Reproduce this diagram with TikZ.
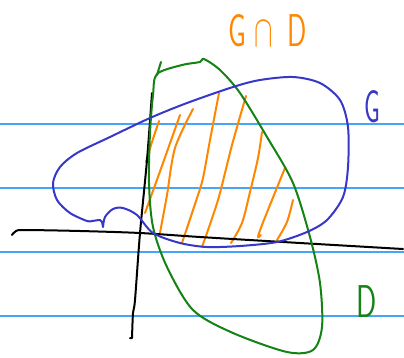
\documentclass[tikz,border=0pt]{standalone}
\usepackage{fontspec}
\begin{document}
\begin{tikzpicture}[x=1pt,y=-1pt,
  ruled/.style={draw=rulecol,line width=1.1pt},
  pen/.style={line width=2pt,line cap=round,line join=round},
  hatch/.style={pen,draw=hatchcol},
  lbl/.style={font=\sffamily\fontsize{46}{46}\selectfont,inner sep=0pt}]
\definecolor{rulecol}{RGB}{70,165,250}
\definecolor{bluecol}{RGB}{55,55,200}
\definecolor{greencol}{RGB}{20,130,20}
\definecolor{hatchcol}{RGB}{255,135,0}
\useasboundingbox (0,0) rectangle (404,357);
\fill[white] (0,0) rectangle (404,357);
% ruled lines
\foreach \yy in {124,188,252,316} \draw[ruled] (0,\yy) -- (404,\yy);
% hatching
\draw[hatch] plot[smooth] coordinates {(159,121) (152,142) (146,162)};
\draw[hatch] plot[smooth] coordinates {(180,115) (163,163) (145,213)};
\draw[hatch] plot[smooth] coordinates {(193,109) (175,148) (167,195) (162,222) (160,233)};
\draw[hatch] plot[smooth] coordinates {(219,93) (210,140) (203,178) (197,198) (182,243)};
\draw[hatch] plot[smooth] coordinates {(246,96) (232,145) (218,200) (202,247)};
\draw[hatch] plot[smooth] coordinates {(262,132) (258,158) (250,192) (242,223) (231,243)};
\draw[hatch] plot[smooth] coordinates {(285,168) (274,195) (262,225) (258,237) (261,235)};
\draw[hatch] plot[smooth] coordinates {(293,200) (287,222) (277,240)};
% axes
\draw[pen,draw=black] plot[smooth] coordinates {(12,235) (16,231) (25,230) (80,231) (140,233) (200,237) (300,243) (403,249)};
\draw[pen,draw=black] plot[smooth] coordinates {(152,93) (147,160) (140,233) (135,300) (133,313) (132,338)} -- (130,338);
% set D
\draw[pen,draw=greencol] plot[smooth cycle] coordinates {(157,74) (182,65) (200,62) (204,59) (220,70) (240,93) (267,137) (293,183) (310,237) (320,283) (322,327) (313,350) (287,352) (233,333) (193,310) (167,267) (153,227) (149,183) (150,133) (153,95)};
\draw[pen,draw=greencol] (157,75) -- (161,62);
% set G
\draw[pen,draw=bluecol] plot[smooth] coordinates {(103,227) (105,217) (113,209) (123,208) (137,215) (153,233) (180,243) (207,247) (240,246) (277,242) (307,232) (327,220) (343,197) (348,167) (348,127) (340,100) (320,83) (293,77) (260,80) (233,87) (187,103) (150,118) (110,137) (77,153) (60,167) (53,183) (57,200) (70,213) (87,221) (92,221) (100,220) (102,222) (103,227)};
% labels
\node[lbl,text=hatchcol,xscale=0.62] (title) at (268,31) {G\hspace{12pt}\scalebox{1.8}{$\cap$}\hspace{24pt}D};
\node[lbl,text=bluecol,xscale=0.55] (glabel) at (372,107) {G};
\node[lbl,text=greencol,xscale=0.65] (dlabel) at (367,302) {D};
\end{tikzpicture}
\end{document}
